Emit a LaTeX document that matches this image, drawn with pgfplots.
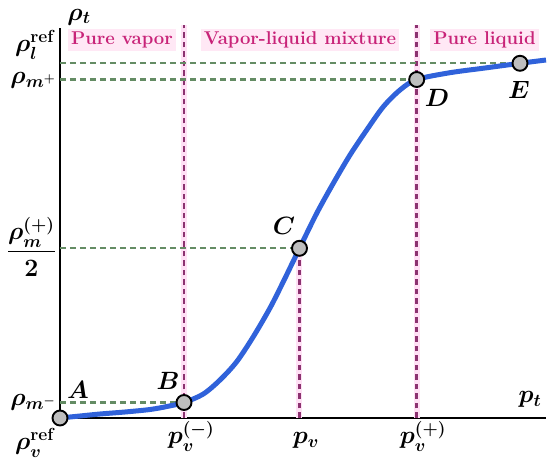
\RequirePackage{fix-cm}
\documentclass[border=0pt]{standalone}
\usepackage{amsmath}
\usepackage{pgfplots}
\pgfplotsset{compat=1.18}
\definecolor{curveblue}{RGB}{48,98,218}
\definecolor{guidegreen}{RGB}{100,140,100}
\definecolor{vline}{RGB}{140,50,112}
\definecolor{vglow}{RGB}{255,224,245}
\definecolor{regtext}{RGB}{200,35,120}
\definecolor{regbg}{RGB}{255,232,245}
\definecolor{markfill}{RGB}{190,190,190}
\newcommand\mf{\fontsize{25}{29}\selectfont\boldmath}
\newcommand\tf{\fontsize{18.5}{22}\selectfont\bfseries}
\begin{document}
\begin{tikzpicture}
\begin{axis}[
  x=1pt, y=1pt,
  xmin=0, xmax=486, ymin=0, ymax=390,
  axis lines=left,
  axis line style={-, line width=2.2pt, black},
  xtick=\empty, ytick=\empty,
  clip=false,
]
% region labels
\node[font=\tf, text=regtext, fill=regbg, inner sep=3pt] at (axis cs:62,378) {Pure vapor};
\node[font=\tf, text=regtext, fill=regbg, inner sep=3pt] at (axis cs:240,378) {Vapor-liquid mixture};
\node[font=\tf, text=regtext, fill=regbg, inner sep=3pt] at (axis cs:424.5,378) {Pure liquid};
% vertical guide lines
\addplot[vglow, line width=6pt, forget plot] coordinates {(124,0) (124,393)};
\addplot[vglow, line width=6pt, forget plot] coordinates {(356.7,0) (356.7,393)};
\addplot[vglow, line width=6pt, forget plot] coordinates {(239.5,0) (239.5,169.7)};
\addplot[vline, line width=2.5pt, dash pattern=on 5.5pt off 4pt] coordinates {(124,0) (124,393)};
\addplot[vline, line width=2.5pt, dash pattern=on 5.5pt off 4pt] coordinates {(356.7,0) (356.7,393)};
\addplot[vline, line width=2.5pt, dash pattern=on 5.5pt off 4pt] coordinates {(239.5,0) (239.5,169.7)};
% horizontal guide lines
\addplot[guidegreen, line width=2.3pt, dash pattern=on 6pt off 4pt] coordinates {(0,354.7) (460,354.7)};
\addplot[guidegreen, line width=2.3pt, dash pattern=on 6pt off 4pt] coordinates {(0,338.5) (356.7,338.5)};
\addplot[guidegreen, line width=2.3pt, dash pattern=on 6pt off 4pt] coordinates {(0,169.7) (239.5,169.7)};
\addplot[guidegreen, line width=2.3pt, dash pattern=on 6pt off 4pt] coordinates {(0,15.5) (124,15.5)};
% curve
\addplot[curveblue, line width=5pt, smooth] coordinates {
 (0,0) (20,2) (40,4) (65,6) (90,8.5) (107,11.5) (124,15.5) (143.3,24) (160,38)
 (176.7,56.3) (193.3,81.3) (210,110) (223.3,136.3) (239.5,169.7)
 (256.7,204.7) (273.3,234.7) (290,263) (306.7,288) (323.3,311.3) (340,328)
 (356.7,338.5) (390,345.3) (425,350) (460,354.7) (486,358)
};
% points
\addplot[only marks, mark=*, mark size=7.5pt,
  mark options={fill=markfill, draw=black, line width=1.9pt}]
  coordinates {(0,0) (124,15.5) (239.5,169.7) (356.7,338.5) (460,354.7)};
% point labels
\node[font=\mf] at (axis cs:18,28) {$A$};
\node[font=\mf] at (axis cs:108,37) {$B$};
\node[font=\mf] at (axis cs:224,192) {$C$};
\node[font=\mf] at (axis cs:377,320) {$D$};
\node[font=\mf] at (axis cs:459,328) {$E$};
% y labels
\node[font=\mf, anchor=east, inner sep=0pt] at (axis cs:-4,373) {$\rho_l^{\mathbf{ref}}$};
\node[font=\mf, anchor=east, inner sep=0pt] at (axis cs:-4,338) {$\rho_{m^+}$};
\node[font=\mf, anchor=east, inner sep=0pt] at (axis cs:-4,171) {$\dfrac{\rho_m^{(+)}}{2}$};
\node[font=\mf, anchor=east, inner sep=0pt] at (axis cs:-4,16) {$\rho_{m^-}$};
\node[font=\mf, anchor=east, inner sep=0pt] at (axis cs:-4,-25) {$\rho_v^{\mathbf{ref}}$};
% x labels
\node[font=\mf, anchor=base, inner sep=0pt] at (axis cs:131,-26) {$p_v^{(-)}$};
\node[font=\mf, anchor=base, inner sep=0pt] at (axis cs:246,-26) {$p_v$};
\node[font=\mf, anchor=base, inner sep=0pt] at (axis cs:363,-26) {$p_v^{(+)}$};
% axis labels
\node[font=\mf, inner sep=0pt] at (axis cs:19,401) {$\rho_t$};
\node[font=\mf, anchor=base, inner sep=0pt] at (axis cs:470,15) {$p_t$};
\coordinate (O) at (axis cs:0,0);
\end{axis}
\pgfresetboundingbox
\path[use as bounding box] ([shift={(-60pt,-48pt)}]O) rectangle ([shift={(490pt,418pt)}]O);
\end{tikzpicture}
\end{document}
